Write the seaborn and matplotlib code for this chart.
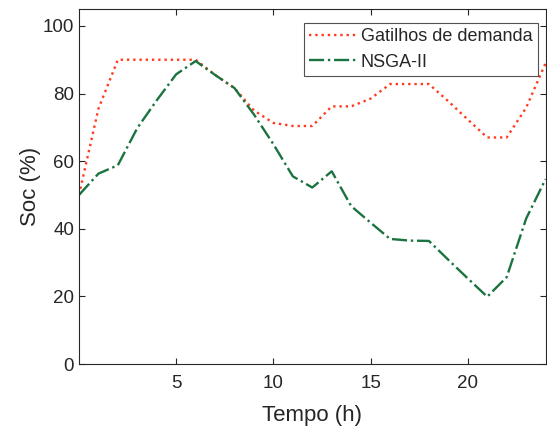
import numpy as np
import pandas as pd
import matplotlib
matplotlib.use('Agg')
import matplotlib.pyplot as plt
import seaborn as sns

# ========== dados ==========
horas = list(range(0, 25))
gatilhos = [50, 75.5, 90, 90, 90, 90, 90, 85.5, 81.6, 75, 71.3, 70.4, 70.4,
            76.2, 76.2, 78.5, 82.8, 82.8, 82.8, 77.7, 72.3, 67, 67, 75.8, 89]
nsga = [50, 56.3, 58.8, 69.8, 78, 85.7, 89.6, 85.5, 81.6, 73.8, 65, 55.5, 52.2,
        57, 46.7, 41.8, 37, 36.5, 36.4, 30.8, 25.3, 19.9, 25.7, 43, 54.7]

nomes = ['Gatilhos de demanda', 'NSGA-II']
cores = ['#ff3b1f', '#1b7340']
estilos = [':', '-.']

df = pd.DataFrame({'Tempo': horas, nomes[0]: gatilhos, nomes[1]: nsga})

# ========== figura ==========
sns.set_theme(style='ticks')
plt.rcParams['font.family'] = ['Liberation Sans', 'DejaVu Sans']

fig = plt.figure(figsize=(5.47, 4.29), dpi=100)
ax = fig.add_axes([0.1444, 0.1515, 0.853, 0.8275])

for nome, cor, ls in zip(nomes, cores, estilos):
    sns.lineplot(data=df, x='Tempo', y=nome, ax=ax, color=cor, linestyle=ls,
                 linewidth=1.7, label=nome)

ax.set_xlim(0, 24)
ax.set_ylim(0, 105)
ax.set_xticks([5, 10, 15, 20])
ax.set_yticks([0, 20, 40, 60, 80, 100])
ax.set_xlabel('Tempo (h)', fontsize=16, color='#262626', labelpad=9)
ax.set_ylabel('Soc (%)', fontsize=16, color='#262626', labelpad=1)
ax.tick_params(direction='in', top=True, right=True, labelsize=13.5,
               colors='#262626', length=4, width=0.8)
ax.tick_params(axis='x', pad=8)
for s in ax.spines.values():
    s.set_color('#262626')
    s.set_linewidth(0.8)
    s.set_visible(True)

leg = ax.legend(loc='upper right', fontsize=13, frameon=True, fancybox=False,
                handlelength=2.7, borderpad=0.3, labelspacing=0.45,
                handletextpad=0.15, borderaxespad=0,
                bbox_to_anchor=(1 - 8 / 467, 1 - 14 / 355))
leg.get_frame().set_edgecolor('#262626')
leg.get_frame().set_linewidth(0.8)

fig.savefig('out.png', dpi=100)
plt.close(fig)
